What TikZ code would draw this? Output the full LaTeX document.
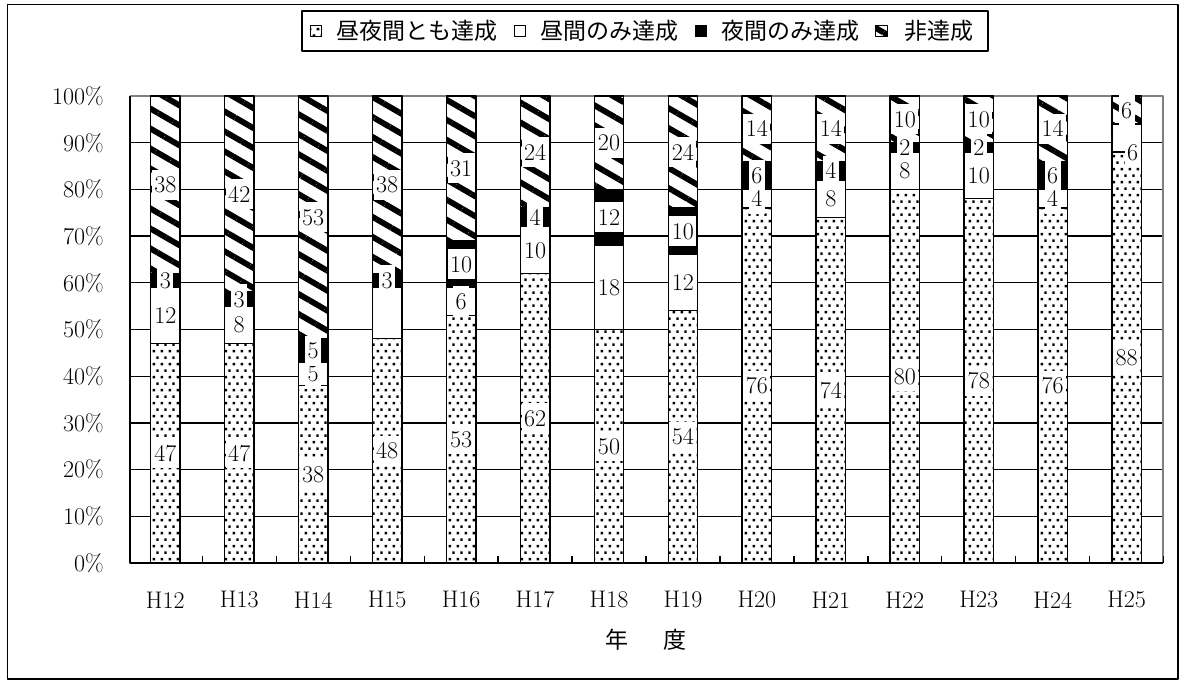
\documentclass[tikz,border=0pt]{standalone}
\usepackage{fontspec}
\newfontfamily\jpfont{Noto Sans CJK JP}
\usetikzlibrary{positioning,patterns.meta}
\newcommand\valfont{\fontsize{24}{26}\selectfont}
\newcommand\legfont{\jpfont\fontsize{23}{26}\selectfont}
\tikzdeclarepattern{name=bardots, type=uncolored,
  bounding box={(0pt,0pt) and (8pt,13.4pt)}, tile size={(8pt,13.4pt)},
  code={\fill (0.7pt,0.7pt) rectangle (3.3pt,3.3pt) (4.7pt,7.4pt) rectangle (7.3pt,10pt);}}
\tikzset{
  segbase/.style={draw, line width=1.3pt},
  dotseg/.style={segbase, preaction={fill=white}, pattern=bardots},
  dayseg/.style={segbase, fill=white},
  nightseg/.style={segbase, fill=black},
  failseg/.style={segbase, preaction={fill=white}, pattern={Lines[angle=-30,distance=17.3pt,line width=5.8pt]}},
  seglabel/.style={fill=white, inner xsep=2.5pt, inner ysep=7pt, text height=16pt, text depth=0pt, font=\valfont},
  legmark/.style={draw, line width=1.2pt, minimum size=11.5pt, inner sep=0pt},
  legtext/.style={inner sep=0pt, font=\legfont},
}
\begin{document}
\begin{tikzpicture}[x=1pt, y=1pt, line join=round]
\useasboundingbox (0,0) rectangle (1183,681);
\draw[line width=1.5pt] (7.5,2) rectangle (1178,676.5);
% legend
\draw[line width=1.5pt] (302,630) rectangle (988,670);
\node[legmark, preaction={fill=white}, pattern=bardots] (m1) at (316,650) {};
\node[legtext, right=14pt of m1] (t1) {昼夜間とも達成};
\node[legmark, fill=white] (m2) at (520,650) {};
\node[legtext, right=14pt of m2] (t2) {昼間のみ達成};
\node[legmark, fill=black] (m3) at (701,650) {};
\node[legtext, right=14pt of m3] (t3) {夜間のみ達成};
\node[legmark, preaction={fill=white}, pattern={Lines[angle=-30,distance=17.3pt,line width=5.8pt]}] (m4) at (881.5,650) {};
\node[legtext, right=14pt of m4] (t4) {非達成};
% chart, y in percent
\begin{scope}[shift={(130,118)}, y=4.67pt]
  \foreach \p in {10,20,...,90} \draw[line width=1.3pt] (0,\p) -- (1033,\p);
  \draw[gray, line width=1.3pt] (0,100) -- (1033,100) -- (1033,0);
  \draw[line width=1.5pt] (0,100) -- (0,0) -- (1033,0);
  \foreach \k in {0,...,13} \draw[line width=1.3pt] (72.3+73.95*\k,0) -- ++(0,1.43);
  \foreach \p in {0,10,...,100} \node[anchor=east, font=\valfont] (p\p) at (-22.7,\p) {\p\%};
  \foreach \yr/\a/\b/\c/\d/\lb [count=\i from 0] in {12/47/12/3/38/12, 13/47/8/3/42/8, 14/38/5/5/53/5,
      15/48/11/3/38/0, 16/53/6/10/31/6, 17/62/10/4/24/10, 18/50/18/12/20/18, 19/54/12/10/24/12,
      20/76/4/6/14/4, 21/74/8/4/14/8, 22/80/8/2/10/8, 23/78/10/2/10/10, 24/76/4/6/14/4, 25/88/6/0/6/0}{
    \pgfmathsetmacro\xc{35.3+73.95*\i}
    \pgfmathsetmacro\yb{\a+\b}
    \pgfmathsetmacro\yc{\a+\b+\c}
    \draw[dotseg] (\xc-14.8,0) rectangle (\xc+14.8,\a);
    \draw[dayseg] (\xc-14.8,\a) rectangle (\xc+14.8,\yb);
    \draw[nightseg] (\xc-14.8,\yb) rectangle (\xc+14.8,\yc);
    \draw[failseg] (\xc-14.8,\yc) rectangle (\xc+14.8,100);
    \node[seglabel] (a\i) at (\xc,\a/2) {\a};
    \ifnum\lb>0 \node[seglabel] (b\i) at (\xc,\a+\b/2) {\lb}; \fi
    \ifnum\c>0 \node[seglabel] (c\i) at (\xc,\yb+\c/2) {\c}; \fi
    \node[seglabel] (d\i) at (\xc,50+\yc/2) {\d};
    \node[font=\valfont] (h\i) at (\xc,-7.9) {H\yr};
  }
  \node[seglabel] (b13) at (1002.7,88) {6};
\end{scope}
\node[font=\legfont] (yrs) at (646,41) {年\hspace{35pt}度};
\end{tikzpicture}
\end{document}
